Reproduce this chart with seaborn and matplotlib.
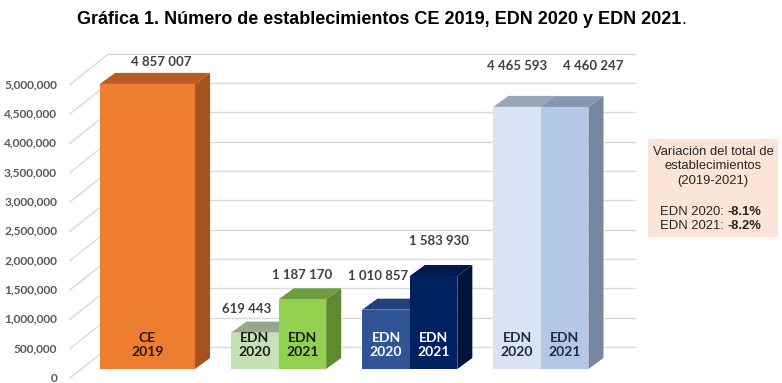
import matplotlib
matplotlib.use("Agg")
import matplotlib.pyplot as plt
import pandas as pd
import seaborn as sns
from matplotlib.patches import Polygon, Rectangle

# Datos de la gráfica
etiquetas = ["CE\n2019", "EDN\n2020", "EDN\n2021", "EDN\n2020", "EDN\n2021", "EDN\n2020", "EDN\n2021"]
grupos = [0, 1, 1, 2, 2, 3, 3]
establecimientos = [4857007, 619443, 1187170, 1010857, 1583930, 4465593, 4460247]
marcas_eje = [0, 500000, 1000000, 1500000, 2000000, 2500000, 3000000, 3500000, 4000000, 4500000, 5000000]
titulo = "Gráfica 1. Número de establecimientos CE 2019, EDN 2020 y EDN 2021"
nota = ["Variación del total de", "establecimientos", "(2019-2021)"]
variaciones = [("EDN 2020: ", "-8.1%"), ("EDN 2021: ", "-8.2%")]

# Estilo: cara frontal, superior y lateral de cada barra 3D
color_frente = ["#ED7D31", "#C5E0B4", "#92D050", "#2F5597", "#002060", "#DAE3F3", "#B4C7E7"]
color_tapa = ["#B85B22", "#98A98B", "#6E9E3B", "#22407A", "#001A4D", "#9AA6B6", "#8597B3"]
color_lado = ["#A4531E", "#8FA67F", "#5F8A30", "#1C3566", "#00133A", "#8896AA", "#76869E"]
color_texto = ["#2B1A0E", "#1C1C1C", "#1C1C1C", "#FFFFFF", "#FFFFFF", "#1F2A44", "#1F2A44"]
# ajuste (px) de las etiquetas de valor, como en el original
ajuste_etiquetas = [(14, 0), (-8, 2), (0, 2), (-8, 12), (5, 13), (0, 19), (29, 19)]

sns.set_theme(style="white")
plt.rcParams["font.family"] = ["Lato", "DejaVu Sans"]

W, H = 782, 383
fig = plt.figure(figsize=(W / 100, H / 100), dpi=100)


def rect_px(left, top, right, bottom):
    return [left / W, 1 - bottom / H, (right - left) / W, (bottom - top) / H]


ax = fig.add_axes(rect_px(81, 75.5, 607, 369))
X0, X1 = -0.4, 10.67
Y1 = 5_000_000
ax.set_xlim(X0, X1)
ax.set_ylim(0, Y1)
PX_X = (607 - 81) / (X1 - X0)
PX_Y = (369 - 75.5) / Y1


def dx(px):
    return px / PX_X


def dy(px):
    return px / PX_Y


# posiciones: centro de grupo y barras contiguas dentro de cada grupo
separacion = 2.76
pos, anchos = [], []
for i, g in enumerate(grupos):
    miembros = [j for j, gg in enumerate(grupos) if gg == g]
    centro = 1 + g * separacion
    if len(miembros) == 1:
        pos.append(centro)
        anchos.append(2.0)
    else:
        k = miembros.index(i)
        pos.append(centro - 0.5 + k)
        anchos.append(1.0)

df = pd.DataFrame({"x": pos, "valor": establecimientos, "ancho": anchos})
solo = df[df["ancho"] == 2.0]
pares = df[df["ancho"] == 1.0]
sns.barplot(data=solo, x="x", y="valor", native_scale=True, width=2.0,
            errorbar=None, color=color_frente[0], ax=ax)
sns.barplot(data=pares, x="x", y="valor", native_scale=True, width=1.0,
            errorbar=None, color=color_frente[1], ax=ax)
ax.set_xlim(X0, X1)
ax.set_ylim(0, Y1)

# profundidad de las barras y de la pared del fondo
prof_x, prof_y = dx(15), dy(11)
pared_x, pared_y = dx(28), dy(22)

barras = list(ax.patches)
for i, barra in enumerate(barras):
    x, w, h = barra.get_x(), barra.get_width(), barra.get_height()
    z = 3 + i * 0.1
    barra.set_facecolor(color_frente[i])
    barra.set_edgecolor("none")
    barra.set_zorder(z + 0.02)
    barra.set_clip_on(False)
    tapa = Polygon([(x, h), (x + w, h), (x + w + prof_x, h + prof_y), (x + prof_x, h + prof_y)],
                   closed=True, facecolor=color_tapa[i], edgecolor="none", zorder=z, clip_on=False)
    lado = Polygon([(x + w, 0), (x + w + prof_x, prof_y), (x + w + prof_x, h + prof_y), (x + w, h)],
                   closed=True, facecolor=color_lado[i], edgecolor="none", zorder=z + 0.01, clip_on=False)
    ax.add_patch(tapa)
    ax.add_patch(lado)
    ax.text(x + w / 2, dy(24), etiquetas[i], ha="center", va="center", fontsize=10,
            fontweight="bold", color=color_texto[i], linespacing=1.2, zorder=z + 0.05)
    ajx, ajy = ajuste_etiquetas[i]
    ax.text(x + w / 2 + dx(ajx), h + prof_y + dy(5 + ajy), f"{establecimientos[i]:,}".replace(",", " "),
            ha="center", va="bottom", fontsize=9.5, fontweight="bold", color="#404040",
            zorder=10, clip_on=False)

# líneas de división en perspectiva y etiquetas del eje
for t in marcas_eje:
    ax.plot([X0 + pared_x, X1 + pared_x], [t + pared_y, t + pared_y], color="#D9D9D9",
            lw=1, zorder=1, clip_on=False)
    ax.plot([X0 - dx(11), X0 + pared_x], [t - dy(9), t + pared_y], color="#D9D9D9",
            lw=1, zorder=1, clip_on=False)
    ax.text(X0 - dx(24), t - dy(9), f"{t:,}", ha="right", va="center", fontsize=8.6,
            fontweight="bold", color="#595959", clip_on=False)

ax.set_xticks([])
ax.set_yticks([])
ax.set_xlabel("")
ax.set_ylabel("")
for s in ax.spines.values():
    s.set_visible(False)
ax.patch.set_alpha(0)

# título (el punto final va sin negrita)
fam_titulo = ["Liberation Sans Narrow", "Liberation Sans", "DejaVu Sans"]
t_titulo = fig.text(379 / W, 1 - 20 / H, titulo, ha="center", va="center", fontsize=13,
                    fontweight="bold", family=fam_titulo, color="#000000")
ax.annotate(".", xy=(1, 0), xycoords=t_titulo, ha="left", va="bottom", fontsize=13,
            family=fam_titulo, color="#000000", annotation_clip=False)

# recuadro de variación
fig.patches.append(Rectangle((648 / W, 1 - 237 / H), 130 / W, 98 / H, transform=fig.transFigure,
                             facecolor="#FBE5D6", edgecolor="none", zorder=0))
fam_nota = ["Liberation Sans", "DejaVu Sans"]
for linea, y in zip(nota, [152, 166, 181]):
    fig.text(713 / W, 1 - y / H, linea, ha="center", va="center", fontsize=9.4,
             family=fam_nota, color="#262626")
for (txt, pct), y in zip(variaciones, [212, 226]):
    fig.text(727 / W, 1 - y / H, txt, ha="right", va="center", fontsize=9.4,
             family=fam_nota, color="#262626")
    fig.text(727 / W, 1 - y / H, pct, ha="left", va="center", fontsize=9.4,
             family=fam_nota, fontweight="bold", color="#262626")

fig.savefig("out.png", dpi=100)
